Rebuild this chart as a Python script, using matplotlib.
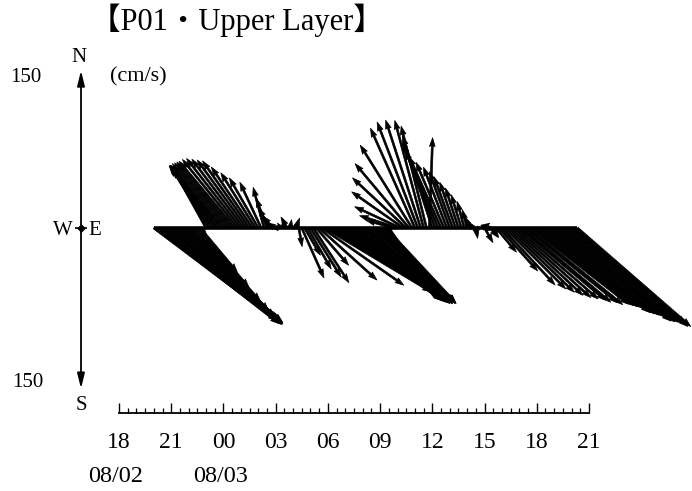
import numpy as np
import pandas as pd
import matplotlib
matplotlib.use('Agg')
import matplotlib.pyplot as plt
from matplotlib import transforms

plt.rcParams['font.family'] = ['Liberation Serif', 'Noto Sans CJK JP']

# ---------------- data ----------------
times = pd.date_range('2008-08-02 20:00', '2008-08-03 20:20', freq='10min')

# current speed (cm/s), one row per hour (10-min samples)
speed = [
    147, 148, 147, 146, 144, 142,   # 20h 08/02
    140, 137, 134, 130, 127, 123,   # 21h
    118, 108, 94, 75, 55, 22,       # 22h
    64, 68, 71, 73, 75, 77,         # 23h
    78, 80, 81, 82, 83, 84,         # 00h 08/03
    84, 82, 80, 78, 70, 62,         # 01h
    55, 48, 40, 30, 22, 15,         # 02h
    10, 8, 6, 9, 12, 8,             # 03h
    6, 10, 18, 52, 30, 45,          # 04h
    55, 62, 47, 74, 95, 118,        # 05h
    122, 122, 121, 120, 119, 118,   # 06h
    117, 116, 115, 114, 113, 112,   # 07h
    110, 109, 108, 106, 105, 103,   # 08h
    101, 100, 98, 45, 12, 28,       # 09h
    38, 48, 60, 70, 80, 93,         # 10h
    104, 108, 108, 106, 100, 86,    # 11h
    92, 86, 80, 74, 68, 62,         # 12h
    57, 52, 46, 40, 33, 26,         # 13h
    18, 12, 8, 10, 6, 9,            # 14h
    16, 8, 12, 10, 30, 55,          # 15h
    74, 82, 88, 94, 99, 103,        # 16h
    107, 110, 113, 116, 118, 120,   # 17h
    122, 124, 126, 128, 130, 132,   # 18h
    134, 136, 138, 139, 140, 141,   # 19h
    142, 143, 143,                  # 20h
]

# direction the current flows toward (degrees clockwise from north)
bearing = [
    127, 128, 128, 129, 129, 130,
    131, 131, 132, 133, 134, 135,
    136, 137, 138, 139, 140, 160,
    331, 328, 326, 324, 322, 321,
    320, 320, 320, 320, 320, 321,
    322, 323, 324, 325, 326, 328,
    330, 335, 345, 340, 330, 320,
    300, 280, 320, 350, 330, 10,
    60, 20, 170, 156, 150, 150,
    148, 147, 139, 132, 125, 121,
    121, 122, 123, 124, 125, 126,
    126, 127, 128, 128, 129, 130,
    130, 131, 132, 132, 133, 134,
    135, 136, 137, 145, 220, 285,
    288, 295, 305, 313, 320, 328,
    336, 339, 342, 345, 346, 2,
    342, 339, 337, 336, 337, 339,
    340, 340, 341, 342, 343, 345,
    345, 335, 320, 170, 250, 60,
    150, 100, 140, 150, 140, 138,
    137, 135, 134, 133, 132, 131,
    130, 130, 129, 129, 128, 128,
    128, 128, 128, 129, 129, 129,
    129, 129, 130, 130, 130, 130,
    130, 131, 131,
]

tick_labels = ['18', '21', '00', '03', '06', '09', '12', '15', '18', '21']
date_labels = ['08/02', '08/03']
scale_value = 150
title = '【P01・Upper Layer】'

# ---------------- derived ----------------
t0 = pd.Timestamp('2008-08-02 18:00')
hours = np.asarray((times - t0) / pd.Timedelta(hours=1), dtype=float)
rad = np.deg2rad(bearing)
u = np.asarray(speed) * np.sin(rad)
v = np.asarray(speed) * np.cos(rad)

# ---------------- figure ----------------
W, H = 692, 491
fig = plt.figure(figsize=(W / 100, H / 100), dpi=100)
fig.patch.set_facecolor('white')

axis_y = 413
base_y = 228
px_per_unit = 1.05
ax = fig.add_axes([119 / W, (H - axis_y) / H, 470 / W, (axis_y - 60) / H])
ax.set_xlim(0, 27)
ax.set_ylim(-(axis_y - base_y) / px_per_unit, (base_y - 60) / px_per_unit)

# zero line
ax.plot([hours[0], hours[-1]], [0, 0], color='k', lw=2.6, solid_capstyle='butt', zorder=2)

# stick vectors
ax.quiver(hours, np.zeros(len(hours)), u, v, angles='uv', scale_units='dots',
          scale=1 / px_per_unit, units='dots', width=1.9, headwidth=3.0,
          headlength=4.6, headaxislength=4.2, color='k', edgecolor='k',
          linewidth=0.5, clip_on=False, zorder=3)

# time axis
ax.set_xticks(np.arange(0, 28, 3))
ax.set_xticklabels(tick_labels)
ax.set_xticks(np.arange(0, 27.01, 0.5), minor=True)
ax.tick_params(axis='x', which='major', direction='in', length=7, width=1.0,
               labelsize=17, pad=13.6)
ax.tick_params(axis='x', which='minor', direction='in', length=3.5, width=0.9)
ax.set_yticks([])
for s in ('left', 'top', 'right'):
    ax.spines[s].set_visible(False)
ax.spines['bottom'].set_linewidth(1.3)
ax.patch.set_alpha(0)

# compass / scale arrows
bt = transforms.blended_transform_factory(ax.transAxes, ax.transData)
xc = (81 - 119) / 470
arrow_kw = dict(arrowstyle='-|>,head_length=0.9,head_width=0.22', mutation_scale=10,
                lw=1.3, color='k', shrinkA=0, shrinkB=0)
ax.annotate('', xy=(xc, scale_value), xytext=(xc, 0), xycoords=bt, textcoords=bt,
            arrowprops=arrow_kw, annotation_clip=False)
ax.annotate('', xy=(xc, -scale_value * 1.02), xytext=(xc, 0), xycoords=bt, textcoords=bt,
            arrowprops=arrow_kw, annotation_clip=False)
ax.plot([xc], [0], marker='D', ms=3.5, color='k', transform=bt, clip_on=False, zorder=4)
ax.plot([xc], [0], marker='_', ms=9, mew=1.2, color='k', transform=bt, clip_on=False, zorder=4)


def ftxt(x, y, s, size, ha='center', va='baseline'):
    fig.text(x / W, 1 - y / H, s, ha=ha, va=va, fontsize=size, color='k')


ftxt(237, 30, title, 22)
ftxt(79, 62, 'N', 15)
ftxt(81, 410, 'S', 15)
ftxt(63, 235, 'W', 15)
ftxt(95, 235, 'E', 15)
ftxt(26, 82, str(scale_value), 15)
ftxt(28, 387, str(scale_value), 15)
ftxt(138, 81, '(cm/s)', 16)
ftxt(116, 482, date_labels[0], 17.5)
ftxt(221, 482, date_labels[1], 17.5)

fig.savefig('out.png', dpi=100)
